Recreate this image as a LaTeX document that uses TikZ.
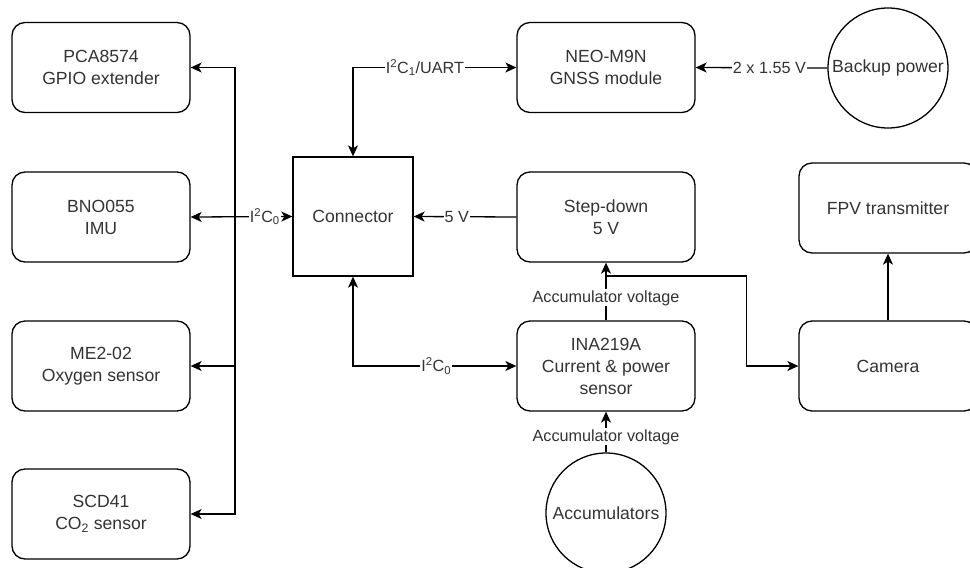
\documentclass[tikz,border=0pt]{standalone}
\usepackage{fontspec}
\setmainfont{Liberation Sans}
\usetikzlibrary{arrows.meta,shapes.geometric}
\definecolor{txt}{HTML}{333333}
\newcommand\bxfont{\fontsize{17.6}{22}\selectfont}
\newcommand\lblfont{\fontsize{16.2}{19}\selectfont}
\begin{document}
\begin{tikzpicture}[x=1pt,y=-1pt,
  box/.style={draw, line width=1.3pt, rounded corners=13pt, minimum width=178pt, minimum height=90pt, align=center, font=\bxfont, text=txt, inner sep=0pt},
  sqbox/.style={draw, line width=1.3pt, minimum width=120pt, minimum height=119pt, align=center, font=\bxfont, text=txt, inner sep=0pt},
  circ/.style={draw, line width=1.3pt, circle, minimum size=120pt, font=\bxfont, text=txt, inner sep=0pt},
  lbl/.style={fill=white, font=\lblfont, text=txt, inner sep=1pt},
  link/.style={line width=1.3pt, >={Stealth[length=11pt,width=10pt,inset=3pt]}}
]
\useasboundingbox (0,0) rectangle (970,568);
% left column
\node[box] (pca) at (101,67.5) {PCA8574\\GPIO extender};
\node[box] (bno) at (101,217) {BNO055\\IMU};
\node[box] (me2) at (101,366) {ME2-02\\Oxygen sensor};
\node[box] (scd) at (101,514) {SCD41\\CO\textsubscript{2} sensor};
% connector
\node[sqbox] (conn) at (353,216.5) {Connector};
% middle column
\node[box] (neo) at (606,67.5) {NEO-M9N\\GNSS module};
\node[box] (step) at (606,217) {Step-down\\5 V};
\node[box] (ina) at (606,366) {INA219A\\Current \& power\\sensor};
\node[circ] (acc) at (606,513) {Accumulators};
% right column
\node[circ] (backup) at (888,68) {Backup power};
\node[box] (fpv) at (888,208) {FPV transmitter};
\node[box] (cam) at (888,366) {Camera};
% bus
\coordinate (bus) at (235,0);
\draw[link,<->] (pca.east) -- (pca.east -| bus) |- (scd.east);
\draw[link,<-] (me2.east) -- (me2.east -| bus);
\draw[link,<->] (bno.east) -- node[lbl,pos=0.73]{I\textsuperscript{2}C\textsubscript{0}} (conn.west);
% connector links
\draw[link,<->] (conn.north) |- node[lbl,pos=0.72]{I\textsuperscript{2}C\textsubscript{1}/UART} (neo.west);
\draw[link,<->] (conn.south) |- node[lbl,pos=0.755]{I\textsuperscript{2}C\textsubscript{0}} (ina.west);
\draw[link,->] (step.west) -- node[lbl,pos=0.58]{5 V} (conn.east);
\draw[link,->] (backup.west) -- node[lbl,pos=0.44]{2 x 1.55 V} (neo.east);
% power
\draw[link,->] (ina.north) -- node[lbl,pos=0.39]{Accumulator voltage} (step.south);
\coordinate (j) at (606,276);
\draw[link,->] (j) -| ([xshift=-52pt]cam.west) -- (cam.west);
\draw[link,->] (acc.north) -- node[lbl,pos=0.38]{Accumulator voltage} (ina.south);
\draw[link,->] (cam.north) -- (fpv.south);
\end{tikzpicture}
\end{document}
